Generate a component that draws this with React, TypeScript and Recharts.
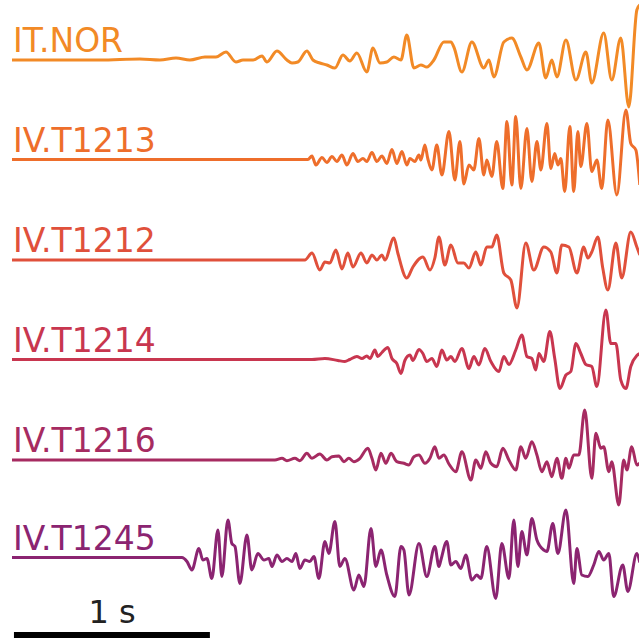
import { LineChart, Line, XAxis, YAxis, ReferenceLine } from 'recharts';

// seismograms: [time (s), amplitude (counts, relative)]
const NOR: number[][] = [
  [0, 0], [0.449, 0], [0.653, 1], [0.755, 0], [0.837, 2], [0.908, 0], [0.985, 3], [1.041, 3], [1.092, 8], [1.143, -2],
  [1.179, 0], [1.23, 0], [1.276, 4], [1.301, -2], [1.352, 9], [1.403, 0], [1.429, -3], [1.459, -2], [1.505, 9], [1.536, 0],
  [1.571, -3], [1.607, -5], [1.648, -8], [1.689, 5], [1.724, -1], [1.76, 7], [1.811, -12], [1.842, 12], [1.878, -3], [1.913, -2],
  [1.949, 3], [1.985, 0], [2.015, 25], [2.051, -8], [2.087, -5], [2.117, -7], [2.153, 0], [2.204, 18], [2.24, 18], [2.255, 13],
  [2.296, -12], [2.347, 18], [2.408, -8], [2.434, 0], [2.459, -17], [2.51, 18], [2.551, 22], [2.597, 3], [2.628, -10], [2.689, 17],
  [2.724, -18], [2.755, 0], [2.781, -17], [2.827, 20], [2.878, -20], [2.929, 8], [2.959, -23], [3.02, 27], [3.061, -20], [3.107, 22],
  [3.148, -47], [3.189, 50], [3.204, 55],
];

const T1213: number[][] = [
  [0, 0], [1.51, 0], [1.531, 3.5], [1.551, -5.5], [1.582, 2], [1.607, -3], [1.633, 3], [1.658, -2], [1.684, 4.5], [1.709, -5.5],
  [1.74, 6], [1.765, -2], [1.791, 1], [1.811, -2], [1.837, 7], [1.862, -2], [1.888, 3.5], [1.913, -4], [1.939, 10], [1.964, -4],
  [1.99, 8], [2.015, -5.5], [2.031, 1], [2.056, -2], [2.077, 4.5], [2.087, -0.5], [2.107, 14.5], [2.122, 1], [2.143, -10.5], [2.168, 14.5],
  [2.194, -15.5], [2.23, 28], [2.26, -20.5], [2.286, 18], [2.306, -24.5], [2.332, -5.5], [2.357, -10.5], [2.383, 21], [2.408, -15.5], [2.423, -0.5],
  [2.449, -17], [2.474, 18], [2.505, -29], [2.526, 38], [2.551, -25.5], [2.571, 43], [2.597, -29], [2.628, 31], [2.653, -22], [2.679, 18],
  [2.699, -10.5], [2.73, 36], [2.75, -9], [2.77, 6], [2.786, -5.5], [2.801, 1], [2.821, -32], [2.847, 33], [2.867, -32], [2.888, 28],
  [2.903, -7], [2.934, 36], [2.959, -12], [2.985, -0.5], [3.01, -29], [3.041, 39.5], [3.087, -35.5], [3.133, 49.5], [3.158, 16], [3.184, 9.5],
  [3.204, -25.5],
];

const T1212: number[][] = [
  [0, 0], [1.495, 0], [1.531, 7], [1.571, -10], [1.597, -2], [1.622, -3], [1.653, 10], [1.684, -9], [1.714, 7], [1.74, -7],
  [1.781, 7], [1.811, -3], [1.837, 5], [1.862, 0], [1.888, 5], [1.903, 0], [1.949, 22], [1.969, 7], [2.015, -18], [2.046, -7],
  [2.097, 3], [2.133, -10], [2.158, 2], [2.179, 23], [2.209, -5], [2.24, 15], [2.276, -3], [2.306, -3], [2.332, -8], [2.367, 8],
  [2.393, -5], [2.423, 13], [2.449, 13], [2.474, 25], [2.51, -13], [2.546, -20], [2.577, -48], [2.622, 17], [2.663, -10], [2.714, 13],
  [2.75, 8], [2.781, -13], [2.806, 15], [2.842, 13], [2.883, -13], [2.918, 13], [2.939, 2], [2.959, 8], [2.99, 23], [3.015, -8],
  [3.041, -30], [3.082, 17], [3.112, -18], [3.158, 28], [3.189, 13], [3.204, 5],
];

const T1214: number[][] = [
  [0, 0], [1.531, 0], [1.597, 1], [1.663, -1], [1.699, -2], [1.724, 0], [1.76, 3], [1.786, 1], [1.811, 3.5], [1.827, 1],
  [1.852, 9.5], [1.867, 3], [1.888, 7], [1.918, 12], [1.939, 1], [1.964, -4], [1.985, -14], [2.005, -1], [2.031, 4.5], [2.046, -1],
  [2.077, 10], [2.097, 6], [2.117, -2], [2.143, 1], [2.168, -7], [2.194, 9.5], [2.219, -0.5], [2.24, 3], [2.26, -2], [2.296, 11],
  [2.332, -9], [2.357, 3], [2.383, -5.5], [2.413, 11], [2.444, -2], [2.485, -12], [2.51, 3], [2.536, -5], [2.571, 9.5], [2.602, 24.5],
  [2.628, 3], [2.653, 1], [2.673, -10.5], [2.689, 6], [2.714, -2], [2.745, 28], [2.77, 1], [2.796, -29], [2.827, -15.5], [2.852, -12],
  [2.878, 16], [2.903, 6], [2.929, -5], [2.959, -7], [2.985, -27], [3.031, 49.5], [3.056, 16], [3.082, 16], [3.107, -20.5], [3.133, -29],
  [3.158, -7], [3.189, 4], [3.204, 6],
];

const T1216: number[][] = [
  [0, 0], [1.342, 0], [1.378, 1.7], [1.403, -0.7], [1.444, 1.7], [1.469, -0.7], [1.505, 6.7], [1.531, 1.7], [1.571, 6], [1.607, 0],
  [1.633, 3.3], [1.668, 4], [1.694, -1.7], [1.719, 1.7], [1.745, -1.7], [1.776, 1.7], [1.816, 11.7], [1.837, 1.7], [1.857, -10], [1.883, 6.7],
  [1.908, -3.3], [1.934, 6.7], [1.964, -1.7], [2.0, -3.3], [2.026, -5], [2.051, 3.3], [2.077, 5], [2.107, -3.3], [2.133, 1.7], [2.158, 13.3],
  [2.179, 1.7], [2.204, 5], [2.23, -4], [2.265, -11.7], [2.296, 8.3], [2.342, -20], [2.367, 0], [2.393, -8.3], [2.418, 8.3], [2.444, -3.3],
  [2.474, -6.7], [2.505, 11.7], [2.536, 0], [2.571, -10], [2.597, 13.3], [2.622, 1.7], [2.653, 18.3], [2.679, 5], [2.704, -11.7], [2.73, -1.7],
  [2.755, -16.7], [2.781, 1.7], [2.806, -18.3], [2.827, 1.7], [2.842, -8.3], [2.867, 5], [2.893, 5], [2.923, 50], [2.959, -18.3], [2.98, 26.7],
  [3.005, 11.7], [3.02, 13.3], [3.046, -11.7], [3.061, -1.7], [3.097, -45], [3.122, 0], [3.138, -10], [3.163, 13.3], [3.189, -5], [3.204, -3],
];

const T1245: number[][] = [
  [0, 0], [0.867, 0], [0.893, -4], [0.918, -12.5], [0.954, 9], [0.974, -2.5], [0.995, -1], [1.02, -21], [1.051, 27.5], [1.071, -19],
  [1.102, 37.5], [1.122, 14], [1.138, 11], [1.163, -26], [1.199, 22.5], [1.224, -12.5], [1.255, 4], [1.286, -2.5], [1.311, -1], [1.327, -9],
  [1.352, 2.5], [1.378, -4], [1.403, -1], [1.429, -4], [1.449, 4], [1.469, -11], [1.495, -2.5], [1.52, -4], [1.541, 1], [1.566, -21],
  [1.597, 16], [1.617, 4], [1.648, 36], [1.673, -9], [1.699, -1], [1.745, -32.5], [1.77, -17.5], [1.796, -29], [1.832, 29], [1.857, -9],
  [1.883, 7.5], [1.913, -17.5], [1.954, -39], [1.985, 11], [2.0, 7.5], [2.026, -37.5], [2.077, 14], [2.117, -19], [2.158, 11], [2.179, -9],
  [2.189, -2.5], [2.219, 16], [2.24, -7.5], [2.265, -4], [2.291, -11], [2.316, 2.5], [2.347, -22.5], [2.372, -17.5], [2.393, -21], [2.423, 11],
  [2.469, -41], [2.5, 14], [2.536, -21], [2.561, 37.5], [2.582, -9], [2.602, 26], [2.628, 2.5], [2.653, 39], [2.679, 17.5], [2.714, 7.5],
  [2.73, 6], [2.76, 34], [2.786, 4], [2.827, 47.5], [2.867, -26], [2.883, 9], [2.908, -17.5], [2.939, -19], [2.969, -7.5], [2.995, 6],
  [3.02, -2.5], [3.046, 4], [3.071, -39], [3.117, -7.5], [3.143, -34], [3.189, 4], [3.204, -5],
];

const STATION_NAMES = ['IT.NOR', 'IV.T1213', 'IV.T1212', 'IV.T1214', 'IV.T1216', 'IV.T1245'];
const TRACES = [NOR, T1213, T1212, T1214, T1216, T1245];
const COLORS = ['#f28a26', '#ee6e2b', '#e0503b', '#c8364f', '#a62b61', '#8b2471'];
const SCALE_BAR_S = 1;

const W = 639;
const H = 638;
const LEFT = 12;
const BASELINES = [60, 159.5, 260, 359.5, 460, 557.5];

const series = TRACES.map((tr) => tr.map(([t, a]) => ({ t, a })));

export default function App() {
  return (
    <div style={{ position: 'absolute', left: 0, top: 0, width: W, height: H, background: '#fff', overflow: 'hidden' }}>
      <LineChart width={W} height={H} margin={{ top: 0, right: 0, bottom: 0, left: LEFT }}>
        <XAxis type="number" dataKey="t" domain={[0, 3.2]} allowDataOverflow hide />
        {BASELINES.map((b, i) => (
          <YAxis key={i} yAxisId={`tr${i}`} type="number" domain={[b - H, b]} allowDataOverflow hide />
        ))}
        <YAxis yAxisId="frame" type="number" domain={[0, H]} reversed allowDataOverflow hide />
        {series.map((d, i) => (
          <Line
            key={STATION_NAMES[i]}
            data={d}
            dataKey="a"
            yAxisId={`tr${i}`}
            type="monotoneX"
            stroke={COLORS[i]}
            strokeWidth={3}
            dot={false}
            isAnimationActive={false}
          />
        ))}
        <ReferenceLine
          yAxisId="frame"
          segment={[{ x: 0.01, y: 635 }, { x: 0.01 + SCALE_BAR_S, y: 635 }]}
          stroke="#000"
          strokeWidth={6}
        />
      </LineChart>
      <svg width={W} height={H} style={{ position: 'absolute', left: 0, top: 0, pointerEvents: 'none' }}>
        {STATION_NAMES.map((n, i) => (
          <text key={n} x={LEFT + 1} y={BASELINES[i] - 8} fill={COLORS[i]} fontFamily="DejaVu Sans" fontSize={33}>
            {n}
          </text>
        ))}
        <text x={112} y={623} textAnchor="middle" fill="#222" fontFamily="DejaVu Sans" fontSize={32}>
          {SCALE_BAR_S} s
        </text>
      </svg>
    </div>
  );
}
